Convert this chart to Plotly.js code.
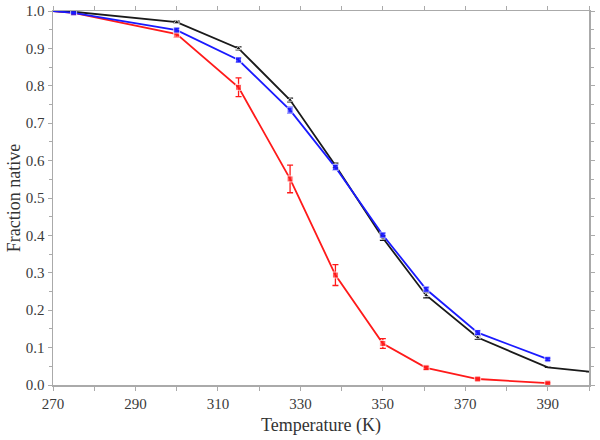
<!DOCTYPE html>
<html>
<head>
<meta charset="utf-8">
<script src="https://cdn.plot.ly/plotly-3.0.1.min.js"></script>
<style>
  body { margin: 0; background: #fff; }
  #chart { width: 600px; height: 440px; }
</style>
</head>
<body>
<div id="chart"></div>
<script>
// temperatures (K) and fraction native
var tempBlack = [270, 275, 300, 315, 327.5, 338.5, 350, 360.5, 373, 390, 400];
var fracBlack = [1.0, 0.998, 0.970, 0.900, 0.762, 0.587, 0.393, 0.240, 0.127, 0.047, 0.036];
var errBlack  = [0, 0, 0.003, 0.004, 0.005, 0.006, 0.006, 0.007, 0.005, 0, 0];
var markBlack = [0, 0, 5, 5, 5, 5, 5, 5, 5, 0, 0];

var tempBlue = [270, 275, 300, 315, 327.5, 338.5, 350, 360.5, 373, 390];
var fracBlue = [1.0, 0.995, 0.949, 0.869, 0.735, 0.582, 0.401, 0.256, 0.140, 0.069];
var errBlue  = [0, 0.002, 0.005, 0.006, 0.008, 0.007, 0.006, 0.006, 0.005, 0.003];
var markBlue = [0, 6, 6, 6, 6, 6, 6, 6, 6, 6];

var tempRed = [270, 275, 300, 315, 327.5, 338.5, 350, 360.5, 373, 390];
var fracRed = [1.0, 0.995, 0.938, 0.796, 0.551, 0.294, 0.111, 0.046, 0.016, 0.005];
var errRed  = [0, 0.003, 0.008, 0.025, 0.037, 0.028, 0.013, 0.004, 0.003, 0.002];
var markRed = [0, 6, 6, 6, 6, 6, 6, 6, 6, 6];

function series(x, y, err, sizes, color, sym) {
    return {
        x: x, y: y,
        type: 'scatter',
        mode: 'lines+markers',
        line: {color: color, width: 1.8},
        marker: {color: color, size: sizes, symbol: sym},
        error_y: {type: 'data', array: err, visible: true, color: color, thickness: 1.3, width: 3},
        cliponaxis: true,
        hoverinfo: 'x+y'
    };
}

var traces = [
    series(tempRed, fracRed, errRed, markRed, '#ff1a1a', 'square'),
    series(tempBlack, fracBlack, errBlack, markBlack, '#1a1a1a', 'triangle-up'),
    series(tempBlue, fracBlue, errBlue, markBlue, '#1a1aff', 'square')
];

var serif = 'Liberation Serif, Times New Roman, serif';

var layout = {
    width: 600, height: 440,
    margin: {l: 53, r: 11, t: 11, b: 55},
    paper_bgcolor: '#fff',
    plot_bgcolor: '#fff',
    showlegend: false,
    xaxis: {
        range: [270, 400],
        tick0: 270, dtick: 20,
        ticks: 'outside', ticklen: 4, tickcolor: '#aaa',
        minor: {dtick: 10, ticks: 'outside', ticklen: 4, tickcolor: '#aaa'},
        showline: true, linecolor: '#aaa', linewidth: 1.5, mirror: 'ticks',
        showgrid: false, zeroline: false,
        tickfont: {family: serif, size: 15, color: '#3a3a3a'},
        title: {text: 'Temperature (K)', font: {family: serif, size: 18, color: '#333'}, standoff: 8}
    },
    yaxis: {
        range: [0, 1.0],
        dtick: 0.1, tickformat: '.1f',
        ticks: 'outside', ticklen: 4, tickcolor: '#aaa',
        minor: {dtick: 0.05, ticks: 'outside', ticklen: 3, tickcolor: '#aaa'},
        showline: true, linecolor: '#aaa', linewidth: 1.5, mirror: 'ticks',
        showgrid: false, zeroline: false,
        tickfont: {family: serif, size: 15, color: '#3a3a3a'},
        title: {text: 'Fraction native', font: {family: serif, size: 18, color: '#333'}, standoff: 0}
    }
};

Plotly.newPlot('chart', traces, layout, {staticPlot: true});
</script>
</body>
</html>
